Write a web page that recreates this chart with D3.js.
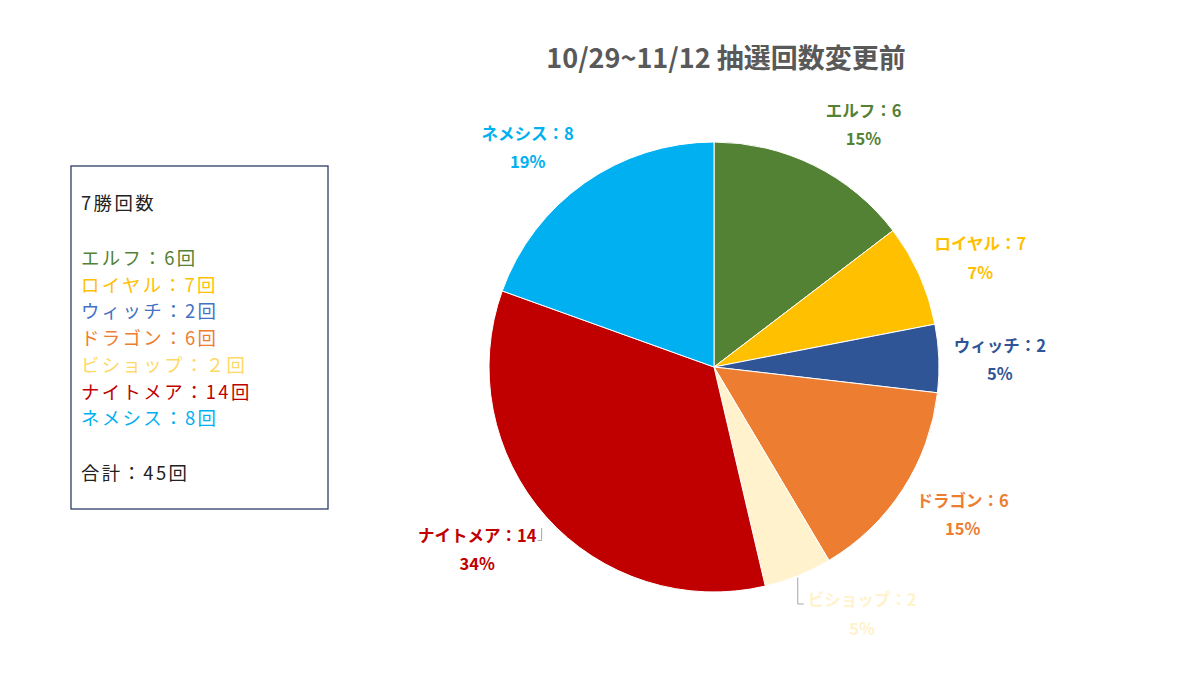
<!DOCTYPE html>
<html><head><meta charset="utf-8">
<script src="https://cdn.jsdelivr.net/npm/d3@7"></script>
<style>html,body{margin:0;padding:0;background:#fff;}svg{display:block;}</style>
</head><body>
<svg id="chart" width="1200" height="675"></svg>
<script>
// ---- data ----
const categories = ["エルフ","ロイヤル","ウィッチ","ドラゴン","ビショップ","ナイトメア","ネメシス"];
const sliceValues = [6, 3, 2, 6, 2, 14, 8];          // slice sizes (as drawn)
const labelCounts = ["6","7","2","6","2","14","8"];   // counts printed in labels
const percentLabels = ["15%","7%","5%","15%","5%","34%","19%"]; // percentages printed
const colors = ["#548235","#FFC000","#2F5597","#ED7D31","#FFF2CC","#C00000","#00B0F0"];
const legendTitle = "7勝回数";
const legendLines = ["エルフ：6回","ロイヤル：7回","ウィッチ：2回","ドラゴン：6回","ビショップ：２回","ナイトメア：14回","ネメシス：8回"];
const legendColors = ["#538135","#FFC000","#4472C4","#ED7D31","#FFD966","#C00000","#00B0F0"];
const legendTotal = "合計：45回";
const title = "10/29~11/12 抽選回数変更前";

// ---- layout (not data) ----
const labelAngleNudge = [5.3, 1.8, 0.6, -2.3, -9, 4.1, -5.2]; // degrees
const labelRadius = [285, 288, 286, 289, 288, 299, 288];
const leader = [false,false,false,false,true,true,false];

const svg = d3.select("#chart");
const font = "'Noto Sans CJK JP','Noto Sans',sans-serif";
const cx = 714, cy = 367, R = 225;

svg.append("text").attr("x", 726).attr("y", 56)
  .attr("text-anchor","middle").attr("dominant-baseline","central")
  .attr("font-family", font).attr("font-weight","bold").attr("font-size", 27)
  .attr("fill","#595959").text(title);

const data = categories.map((c,i)=>({cat:c, v:sliceValues[i], n:labelCounts[i], p:percentLabels[i], color:colors[i], i}));
const pie = d3.pie().value(d=>d.v).sort(null);
const arcs = pie(data);
const arc = d3.arc().innerRadius(0).outerRadius(R);

const g = svg.append("g").attr("transform",`translate(${cx},${cy})`);
g.selectAll("path.slice").data(arcs).join("path").attr("class","slice")
  .attr("d", arc).attr("fill", d=>d.data.color)
  .attr("stroke","#fff").attr("stroke-width",1);

arcs.forEach((a,i)=>{
  const mid = (a.startAngle + a.endAngle)/2;
  const ang = mid + labelAngleNudge[i]*Math.PI/180;
  const lx = labelRadius[i]*Math.sin(ang), ly = -labelRadius[i]*Math.cos(ang);
  const lg = g.append("g");
  const t1 = lg.append("text").attr("x", lx).attr("y", ly-14.5)
    .attr("text-anchor","middle").attr("dominant-baseline","central")
    .attr("font-family", font).attr("font-weight","bold").attr("font-size", 16.5)
    .attr("fill", a.data.color).text(a.data.cat + "：" + a.data.n);
  lg.append("text").attr("x", lx).attr("y", ly+14)
    .attr("text-anchor","middle").attr("dominant-baseline","central")
    .attr("font-family", font).attr("font-weight","bold").attr("font-size", 16.5)
    .attr("fill", a.data.color).text(a.data.p);
  if (leader[i]) {
    const bb = t1.node().getBBox();
    const px = (R+2)*Math.sin(mid), py = -(R+2)*Math.cos(mid);
    let pts;
    if (lx > 0) {
      const ex = bb.x - 10;
      pts = [[ex, py], [ex, ly-10], [bb.x-4, ly-10]];
    } else {
      const ex = bb.x + bb.width + 5;
      pts = [[ex, py+10], [ex, ly-9], [bb.x+bb.width+1, ly-9]];
    }
    g.append("path").attr("d", d3.line()(pts))
      .attr("fill","none").attr("stroke","#A6A6A6").attr("stroke-width",1);
  }
});

// ---- text box legend ----
const box = svg.append("g");
box.append("rect").attr("x",71).attr("y",166).attr("width",257).attr("height",343)
  .attr("fill","#fff").attr("stroke","#2F3C64").attr("stroke-width",1.3);
const tx = 81, fs = 18.4, ls = 2.4;
box.append("text").attr("x",tx).attr("y",202).attr("dominant-baseline","central")
  .attr("font-family",font).attr("font-size",fs).attr("letter-spacing",ls).attr("fill","#222").text(legendTitle);
legendLines.forEach((s,i)=>{
  box.append("text").attr("x",tx).attr("y",257 + i*26.7).attr("dominant-baseline","central")
    .attr("font-family",font).attr("font-size",fs).attr("letter-spacing",ls).attr("fill",legendColors[i]).text(s);
});
box.append("text").attr("x",tx).attr("y",472).attr("dominant-baseline","central")
  .attr("font-family",font).attr("font-size",fs).attr("letter-spacing",ls).attr("fill","#222").text(legendTotal);
</script>
</body></html>
